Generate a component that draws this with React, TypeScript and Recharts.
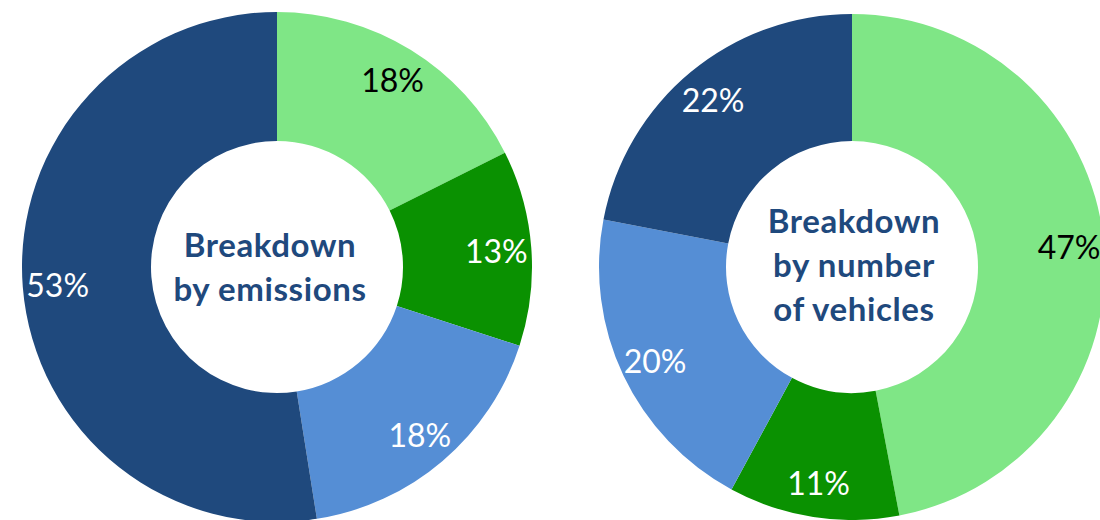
import React from "react";
import { PieChart, Pie, Cell } from "recharts";

const categories = ["Segment A", "Segment B", "Segment C", "Segment D"];
const emissionsValues = [17.6, 12.4, 17.5, 52.5];
const emissionsLabels = ["18%", "13%", "18%", "53%"];
const vehicleValues = [47.0, 10.9, 20.1, 22.0];
const vehicleLabels = ["47%", "11%", "20%", "22%"];
const colors = ["#7FE686", "#0A9101", "#558ED5", "#1F497D"];
const labelColors = ["#000000", "#FFFFFF", "#FFFFFF", "#FFFFFF"];
const emissionsTitle = ["Breakdown", "by emissions"];
const vehicleTitle = ["Breakdown", "by number", "of vehicles"];

const emissionsData = categories.map((name, i) => ({ name, value: emissionsValues[i], label: emissionsLabels[i] }));
const vehicleData = categories.map((name, i) => ({ name, value: vehicleValues[i], label: vehicleLabels[i] }));

const RAD = Math.PI / 180;
const FONT = "Lato, 'Open Sans', sans-serif";

const makeLabel = (labels: string[], r: number) => (props: any) => {
  const { cx, cy, midAngle, index } = props;
  const x = cx + r * Math.cos(-midAngle * RAD);
  const y = cy + r * Math.sin(-midAngle * RAD);
  return (
    <text
      x={x}
      y={y}
      fill={labelColors[index]}
      textAnchor="middle"
      dominantBaseline="central"
      fontFamily={FONT}
      fontSize={32}
    >
      {labels[index]}
    </text>
  );
};

const Title = ({ x, y, lines }: { x: number; y: number; lines: string[] }) => (
  <text
    x={x}
    textAnchor="middle"
    fontFamily={FONT}
    fontWeight={700}
    fontSize={33}
    letterSpacing={0.6}
    fill="#1F497D"
  >
    {lines.map((l, i) => (
      <tspan key={i} x={x} y={y + i * 44}>
        {l}
      </tspan>
    ))}
  </text>
);

export default function App() {
  return (
    <div style={{ position: "fixed", left: 0, top: 0, width: 1100, height: 520, background: "#fff" }}>
      <PieChart width={1100} height={520} margin={{ top: 0, right: 0, bottom: 0, left: 0 }}>
        <Pie
          data={emissionsData}
          dataKey="value"
          cx={277}
          cy={267}
          innerRadius={126}
          outerRadius={255}
          startAngle={90}
          endAngle={-270}
          stroke="none"
          isAnimationActive={false}
          labelLine={false}
          label={makeLabel(emissionsLabels, 220)}
        >
          {emissionsData.map((d, i) => (
            <Cell key={d.name} fill={colors[i]} />
          ))}
        </Pie>
        <Pie
          data={vehicleData}
          dataKey="value"
          cx={852}
          cy={267}
          innerRadius={126}
          outerRadius={253}
          startAngle={90}
          endAngle={-270}
          stroke="none"
          isAnimationActive={false}
          labelLine={false}
          label={makeLabel(vehicleLabels, 218)}
        >
          {vehicleData.map((d, i) => (
            <Cell key={d.name} fill={colors[i]} />
          ))}
        </Pie>
        <Title x={270} y={257} lines={emissionsTitle} />
        <Title x={854} y={233} lines={vehicleTitle} />
      </PieChart>
    </div>
  );
}
